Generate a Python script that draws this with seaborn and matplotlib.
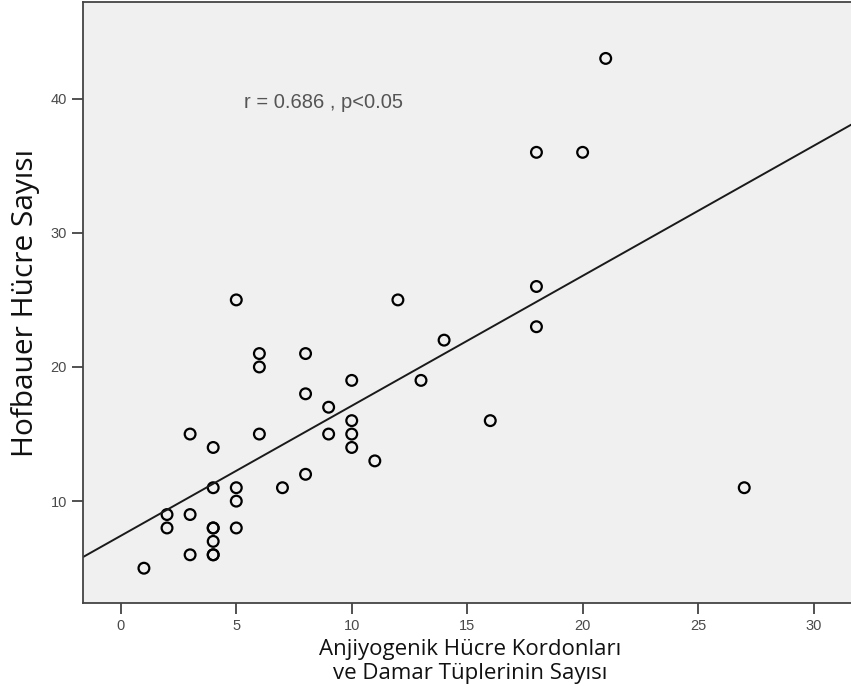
import matplotlib
matplotlib.use("Agg")
import matplotlib.pyplot as plt
import seaborn as sns
import pandas as pd

# Anjiyogenik hücre kordonları / damar tüpleri (x) ve Hofbauer hücre sayısı (y)
kordon = [1, 2, 2, 3, 3, 3, 4, 4, 4, 4, 4, 4, 4, 5, 5, 5, 5, 6, 6, 6, 7,
          8, 8, 8, 9, 9, 10, 10, 10, 10, 11, 12, 13, 14, 16, 18, 18, 18,
          20, 21, 27]
hofbauer = [5, 9, 8, 15, 9, 6, 14, 11, 8, 8, 7, 6, 6, 25, 11, 10, 8, 21, 20,
            15, 11, 21, 18, 12, 17, 15, 19, 16, 15, 14, 13, 25, 19, 22, 16,
            36, 26, 23, 36, 43, 11]
x_ticks = [0, 5, 10, 15, 20, 25, 30]
y_ticks = [10, 20, 30, 40]

df = pd.DataFrame({"kordon": kordon, "hofbauer": hofbauer})

sns.set_theme(style="white")
plt.rcParams["font.family"] = ["Liberation Sans", "DejaVu Sans"]

fig = plt.figure(figsize=(8.51, 6.94), dpi=100)
ax = fig.add_axes([0.0975, 0.131, 0.91, 0.866])
ax.set_facecolor("#f0f0f0")
ax.set_xlim(-1.64, 31.9)
ax.set_ylim(2.4, 47.2)

sns.regplot(data=df, x="kordon", y="hofbauer", ax=ax, ci=None, truncate=False,
            scatter_kws={"s": 60, "facecolors": "none", "edgecolors": "#000000",
                         "linewidths": 1.6, "alpha": 1},
            line_kws={"color": "#1a1a1a", "linewidth": 1.4})
ax.set_xlim(-1.64, 31.9)
ax.set_ylim(2.4, 47.2)

ax.set_xticks(x_ticks)
ax.set_yticks(y_ticks)
ax.tick_params(axis="both", direction="out", length=8, width=1.2,
               colors="#333333", labelsize=10.5, bottom=True, left=True)
for lab in ax.get_xticklabels() + ax.get_yticklabels():
    lab.set_color("#4a4a4a")
for side in ["left", "bottom", "top"]:
    ax.spines[side].set_color("#444444")
    ax.spines[side].set_linewidth(1.3)
ax.spines["right"].set_visible(False)

ax.set_xlabel("Anjiyogenik Hücre Kordonları\nve Damar Tüplerinin Sayısı",
              fontsize=16, family=["Open Sans", "DejaVu Sans"],
              linespacing=1.2, labelpad=4, color="#111111")
ax.set_ylabel("Hofbauer Hücre Sayısı", fontsize=21.5,
              family=["Open Sans", "DejaVu Sans"], labelpad=8, color="#111111")

ax.text(5.35, 39.7, "r = 0.686 , p<0.05", fontsize=14.5, color="#555555",
        va="center", ha="left")

fig.savefig("out.png", dpi=100)
